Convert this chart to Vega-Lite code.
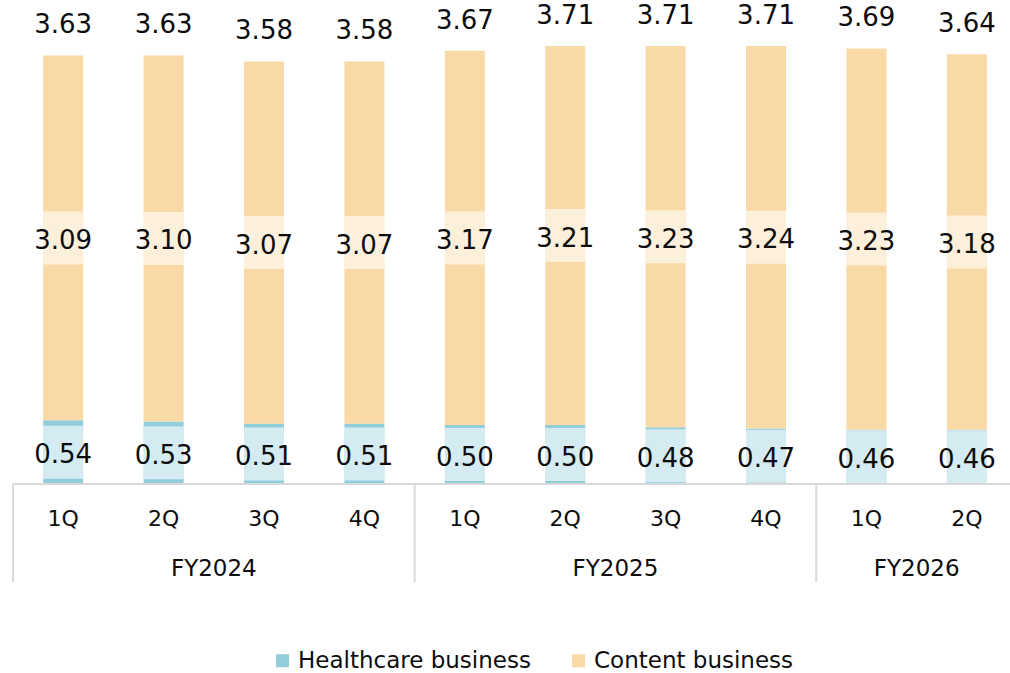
{
  "$schema": "https://vega.github.io/schema/vega-lite/v6.json",
  "width": 997,
  "height": 582,
  "autosize": {"type": "none"},
  "padding": {"left": 13, "top": 0, "right": 0, "bottom": 91},
  "config": {"view": {"stroke": null}, "font": "DejaVu Sans"},
  "datasets": {
    "q": [
      {"fy": "FY2024", "q": "1Q", "i": 1, "seg": "Healthcare business", "value": 0.54},
      {"fy": "FY2024", "q": "1Q", "i": 1, "seg": "Content business", "value": 3.09},
      {"fy": "FY2024", "q": "2Q", "i": 2, "seg": "Healthcare business", "value": 0.53},
      {"fy": "FY2024", "q": "2Q", "i": 2, "seg": "Content business", "value": 3.10},
      {"fy": "FY2024", "q": "3Q", "i": 3, "seg": "Healthcare business", "value": 0.51},
      {"fy": "FY2024", "q": "3Q", "i": 3, "seg": "Content business", "value": 3.07},
      {"fy": "FY2024", "q": "4Q", "i": 4, "seg": "Healthcare business", "value": 0.51},
      {"fy": "FY2024", "q": "4Q", "i": 4, "seg": "Content business", "value": 3.07},
      {"fy": "FY2025", "q": "1Q", "i": 5, "seg": "Healthcare business", "value": 0.50},
      {"fy": "FY2025", "q": "1Q", "i": 5, "seg": "Content business", "value": 3.17},
      {"fy": "FY2025", "q": "2Q", "i": 6, "seg": "Healthcare business", "value": 0.50},
      {"fy": "FY2025", "q": "2Q", "i": 6, "seg": "Content business", "value": 3.21},
      {"fy": "FY2025", "q": "3Q", "i": 7, "seg": "Healthcare business", "value": 0.48},
      {"fy": "FY2025", "q": "3Q", "i": 7, "seg": "Content business", "value": 3.23},
      {"fy": "FY2025", "q": "4Q", "i": 8, "seg": "Healthcare business", "value": 0.47},
      {"fy": "FY2025", "q": "4Q", "i": 8, "seg": "Content business", "value": 3.24},
      {"fy": "FY2026", "q": "1Q", "i": 9, "seg": "Healthcare business", "value": 0.46},
      {"fy": "FY2026", "q": "1Q", "i": 9, "seg": "Content business", "value": 3.23},
      {"fy": "FY2026", "q": "2Q", "i": 10, "seg": "Healthcare business", "value": 0.46},
      {"fy": "FY2026", "q": "2Q", "i": 10, "seg": "Content business", "value": 3.18}
    ]
  },
  "data": {"name": "q"},
  "layer": [
    {
      "transform": [
        {"stack": "value", "groupby": ["i"], "sort": [{"field": "seg", "order": "descending"}], "as": ["v0", "v1"]}
      ],
      "mark": {"type": "bar", "size": 40},
      "encoding": {
        "x": {"field": "i", "type": "quantitative", "scale": {"domain": [0.5, 10.43], "nice": false, "zero": false, "padding": 0}, "axis": null},
        "y": {"field": "v0", "type": "quantitative", "scale": {"domain": [-0.83, 4.1], "nice": false, "zero": false, "padding": 0}, "axis": null},
        "y2": {"field": "v1"},
        "color": {
          "field": "seg", "type": "nominal",
          "scale": {"domain": ["Healthcare business", "Content business"], "range": ["#92CDDC", "#F9D9A5"]},
          "legend": {"orient": "none", "legendX": 258, "legendY": 649, "direction": "horizontal", "title": null, "symbolType": "square", "symbolSize": 169, "symbolStrokeWidth": 0, "labelFontSize": 23, "labelFont": "DejaVu Sans", "labelColor": "#0D0D0D", "labelLimit": 500, "columnPadding": 36, "labelOffset": 4}
        }
      }
    },
    {
      "transform": [
        {"stack": "value", "groupby": ["i"], "sort": [{"field": "seg", "order": "descending"}], "as": ["v0", "v1"]},
        {"calculate": "(datum.v0 + datum.v1) / 2", "as": "mid"}
      ],
      "mark": {"type": "point", "shape": "M-0.755,-1L0.755,-1L0.755,1L-0.755,1Z", "filled": true, "fill": "#FFFFFF", "opacity": 0.6, "size": 2809, "strokeWidth": 0},
      "encoding": {
        "x": {"field": "i", "type": "quantitative"},
        "y": {"field": "mid", "type": "quantitative"}
      }
    },
    {
      "transform": [
        {"stack": "value", "groupby": ["i"], "sort": [{"field": "seg", "order": "descending"}], "as": ["v0", "v1"]},
        {"calculate": "(datum.v0 + datum.v1) / 2", "as": "mid"}
      ],
      "mark": {"type": "text", "fontSize": 26, "color": "#0D0D0D", "baseline": "middle", "dy": 3},
      "encoding": {
        "x": {"field": "i", "type": "quantitative"},
        "y": {"field": "mid", "type": "quantitative"},
        "text": {"field": "value", "type": "quantitative", "format": ".2f"}
      }
    },
    {
      "transform": [
        {"stack": "value", "groupby": ["i"], "sort": [{"field": "seg", "order": "descending"}], "as": ["v0", "v1"]},
        {"filter": "datum.seg === 'Content business'"}
      ],
      "mark": {"type": "text", "fontSize": 26, "color": "#0D0D0D", "baseline": "alphabetic", "dy": -22},
      "encoding": {
        "x": {"field": "i", "type": "quantitative"},
        "y": {"field": "v1", "type": "quantitative"},
        "text": {"field": "v1", "type": "quantitative", "format": ".2f"}
      }
    },
    {
      "data": {"values": [{"base": 0}]},
      "mark": {"type": "rule", "color": "#D9D9D9", "strokeWidth": 2},
      "encoding": {"y": {"field": "base", "type": "quantitative"}}
    },
    {
      "transform": [{"filter": "datum.seg === 'Healthcare business'"}],
      "mark": {"type": "text", "fontSize": 22, "color": "#0D0D0D", "baseline": "middle"},
      "encoding": {
        "x": {"field": "i", "type": "quantitative"},
        "y": {"datum": -0.3},
        "text": {"field": "q"}
      }
    },
    {
      "transform": [
        {"aggregate": [{"op": "min", "field": "i", "as": "imin"}, {"op": "max", "field": "i", "as": "imax"}], "groupby": ["fy"]},
        {"calculate": "datum.imin - 0.5", "as": "start"}
      ],
      "mark": {"type": "rule", "color": "#D9D9D9", "strokeWidth": 2},
      "encoding": {
        "x": {"field": "start", "type": "quantitative"},
        "y": {"datum": 0},
        "y2": {"datum": -0.83}
      }
    },
    {
      "transform": [
        {"aggregate": [{"op": "min", "field": "i", "as": "imin"}, {"op": "max", "field": "i", "as": "imax"}], "groupby": ["fy"]},
        {"calculate": "(datum.imin + datum.imax) / 2", "as": "center"}
      ],
      "mark": {"type": "text", "fontSize": 23, "color": "#0D0D0D", "baseline": "middle"},
      "encoding": {
        "x": {"field": "center", "type": "quantitative"},
        "y": {"datum": -0.72},
        "text": {"field": "fy"}
      }
    }
  ]
}
